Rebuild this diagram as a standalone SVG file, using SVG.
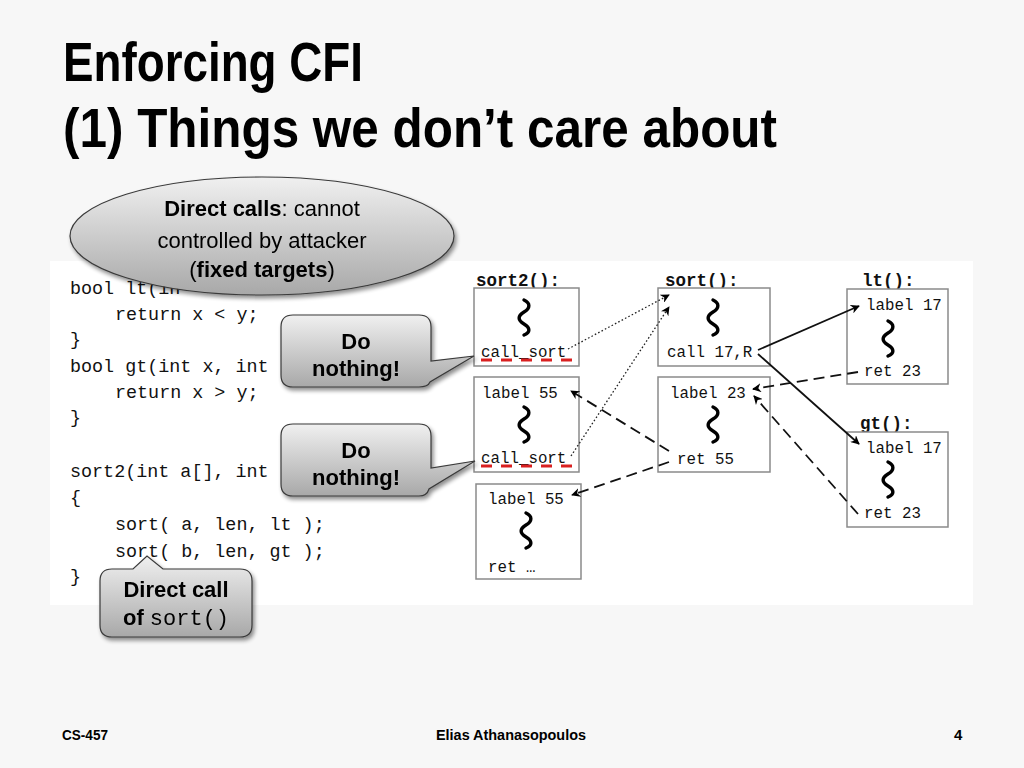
<svg xmlns="http://www.w3.org/2000/svg" xmlns:xlink="http://www.w3.org/1999/xlink" width="1024" height="768" viewBox="0 0 1024 768">
<style>
.title{font-family:"Liberation Sans",Arial,sans-serif;font-weight:bold;font-size:55px;fill:#000}
.foot{font-family:"Liberation Sans",Arial,sans-serif;font-weight:bold;font-size:15px;fill:#000}
.code{font-family:"Liberation Mono","DejaVu Sans Mono",monospace;font-size:18.4px;fill:#111}
.box{fill:#fff;stroke:#8a8a8a;stroke-width:1.5}
.bt{font-family:"Liberation Mono","DejaVu Sans Mono",monospace;font-size:15.8px;fill:#111}
.fn{font-family:"Liberation Mono","DejaVu Sans Mono",monospace;font-size:17.5px;font-weight:bold;fill:#111}
.sq{fill:none;stroke:#000;stroke-width:3.4;stroke-linecap:round}
.red{stroke:#d92020;stroke-width:2.8;stroke-dasharray:11 9}
.dot{fill:none;stroke:#222;stroke-width:1.3;stroke-dasharray:1.6 2.2}
.dash{fill:none;stroke:#111;stroke-width:1.8;stroke-dasharray:11 6}
.solid{fill:none;stroke:#111;stroke-width:1.8}
.co{stroke:#3a3a3a;stroke-width:1.2;fill:url(#g)}
.ct{font-family:"Liberation Sans",Arial,sans-serif;font-size:22px;fill:#000;text-anchor:middle}
.b{font-weight:bold}
</style>
<defs>
<linearGradient id="g" x1="0" y1="0" x2="0" y2="1">
<stop offset="0" stop-color="#f0f0f0"/>
<stop offset="1" stop-color="#a8a8a8"/>
</linearGradient>
<filter id="sh" x="-10%" y="-10%" width="130%" height="140%">
<feGaussianBlur in="SourceAlpha" stdDeviation="2"/>
<feOffset dx="2" dy="3" result="o"/>
<feComponentTransfer><feFuncA type="linear" slope="0.45"/></feComponentTransfer>
<feMerge><feMergeNode/><feMergeNode in="SourceGraphic"/></feMerge>
</filter>
<marker id="ah" viewBox="0 0 10 10" refX="9" refY="5" markerWidth="9" markerHeight="9" markerUnits="userSpaceOnUse" orient="auto">
<path d="M0,0 L10,5 L0,10 L3,5 Z" fill="#000"/>
</marker>
<path id="sq" d="M0,0 C6.5,3 6.5,8 0,12 C-6.5,16 -6.5,20 0,24 C6.5,28 6.5,32 0,35"/>
</defs>

<rect x="0" y="0" width="1024" height="768" fill="#f7f7f7"/>

<g id="title">
<text class="title" x="63" y="81" textLength="300" lengthAdjust="spacingAndGlyphs">Enforcing CFI</text>
<text class="title" x="63" y="147" textLength="714" lengthAdjust="spacingAndGlyphs">(1) Things we don’t care about</text>
</g>

<rect x="50" y="261" width="923" height="344" fill="#ffffff"/>

<g id="code">
<text class="code" x="70" y="294">bool lt(in</text>
<text class="code" x="115" y="320">return x &lt; y;</text>
<text class="code" x="70" y="345">}</text>
<text class="code" x="70" y="372">bool gt(int x, int</text>
<text class="code" x="115" y="398">return x &gt; y;</text>
<text class="code" x="70" y="423">}</text>
<text class="code" x="70" y="477">sort2(int a[], int</text>
<text class="code" x="70" y="503">{</text>
<text class="code" x="115" y="530">sort( a, len, lt );</text>
<text class="code" x="115" y="557">sort( b, len, gt );</text>
<text class="code" x="70" y="582">}</text>
</g>

<g id="fn-labels">
<text class="fn" x="476" y="286">sort2():</text>
<text class="fn" x="665" y="286">sort():</text>
<text class="fn" x="862" y="286">lt():</text>
<text class="fn" x="860" y="429">gt():</text>
</g>

<g id="sort2-a">
<rect class="box" x="474" y="288" width="105" height="78"/>
<use xlink:href="#sq" href="#sq" class="sq" x="524" y="300"/>
<text class="bt" x="481" y="357">call_sort</text>
<line class="red" x1="481" y1="360" x2="573" y2="360"/>
</g>
<g id="sort2-b">
<rect class="box" x="474" y="377" width="105" height="95"/>
<text class="bt" x="482" y="398">label 55</text>
<use xlink:href="#sq" href="#sq" class="sq" x="524" y="407"/>
<text class="bt" x="481" y="463">call_sort</text>
<line class="red" x1="481" y1="466" x2="573" y2="466"/>
</g>
<g id="sort2-c">
<rect class="box" x="476" y="484" width="105" height="95"/>
<text class="bt" x="488" y="504">label 55</text>
<use xlink:href="#sq" href="#sq" class="sq" x="526" y="513"/>
<text class="bt" x="488" y="572">ret …</text>
</g>
<g id="sort-a">
<rect class="box" x="658" y="288" width="112" height="78"/>
<use xlink:href="#sq" href="#sq" class="sq" x="713" y="300"/>
<text class="bt" x="667" y="357">call 17,R</text>
</g>
<g id="sort-b">
<rect class="box" x="658" y="377" width="112" height="95"/>
<text class="bt" x="670" y="398">label 23</text>
<use xlink:href="#sq" href="#sq" class="sq" x="713" y="407"/>
<text class="bt" x="677" y="464">ret 55</text>
</g>
<g id="lt">
<rect class="box" x="847" y="289" width="101" height="95"/>
<text class="bt" x="866" y="310">label 17</text>
<use xlink:href="#sq" href="#sq" class="sq" x="888" y="321"/>
<text class="bt" x="864" y="376">ret 23</text>
</g>
<g id="gt">
<rect class="box" x="847" y="432" width="101" height="95"/>
<text class="bt" x="866" y="453">label 17</text>
<use xlink:href="#sq" href="#sq" class="sq" x="888" y="462"/>
<text class="bt" x="864" y="518">ret 23</text>
</g>

<g id="connectors">
<line class="dot" x1="568" y1="349" x2="669" y2="295" marker-end="url(#ah)"/>
<line class="dot" x1="571" y1="456" x2="669" y2="307" marker-end="url(#ah)"/>
<line class="dash" x1="669" y1="451" x2="571" y2="391" marker-end="url(#ah)"/>
<line class="dash" x1="669" y1="462" x2="572" y2="495" marker-end="url(#ah)"/>
<line class="solid" x1="758" y1="350" x2="859" y2="306" marker-end="url(#ah)"/>
<line class="solid" x1="758" y1="354" x2="859" y2="444" marker-end="url(#ah)"/>
<line class="dash" x1="858" y1="372" x2="753" y2="389" marker-end="url(#ah)"/>
<line class="dash" x1="858" y1="514" x2="754" y2="396" marker-end="url(#ah)"/>
</g>

<g id="callout-direct-calls" filter="url(#sh)">
<ellipse class="co" cx="262" cy="236" rx="192" ry="59"/>
<text class="ct" x="262" y="216"><tspan class="b">Direct calls</tspan>: cannot</text>
<text class="ct" x="262" y="248">controlled by attacker</text>
<text class="ct" x="262" y="277">(<tspan class="b">fixed targets</tspan>)</text>
</g>

<g id="callout-nothing-1" filter="url(#sh)">
<path class="co" d="M293,315 H419 Q431,315 431,327 V361 L474,356 L430,382 Q428,387 419,387 H293 Q281,387 281,375 V327 Q281,315 293,315 Z"/>
<text class="ct b" x="356" y="349">Do</text>
<text class="ct b" x="356" y="376">nothing!</text>
</g>

<g id="callout-nothing-2" filter="url(#sh)">
<path class="co" d="M293,424 H419 Q431,424 431,436 V468 L475,461 L429,489 Q427,496 419,496 H293 Q281,496 281,484 V436 Q281,424 293,424 Z"/>
<text class="ct b" x="356" y="458">Do</text>
<text class="ct b" x="356" y="485">nothing!</text>
</g>

<g id="callout-direct-call" filter="url(#sh)">
<path class="co" d="M112,569 H133 L147,556 L163,569 H240 Q252,569 252,581 V625 Q252,637 240,637 H112 Q100,637 100,625 V581 Q100,569 112,569 Z"/>
<text class="ct b" x="176" y="597">Direct call</text>
<text class="ct" x="176" y="625"><tspan class="b">of </tspan><tspan font-family="Liberation Mono,DejaVu Sans Mono,monospace">sort()</tspan></text>
</g>

<g id="footer">
<text class="foot" x="62" y="740" textLength="46" lengthAdjust="spacingAndGlyphs">CS-457</text>
<text class="foot" x="436" y="740" textLength="150" lengthAdjust="spacingAndGlyphs">Elias Athanasopoulos</text>
<text class="foot" x="954" y="740">4</text>
</g>
</svg>
